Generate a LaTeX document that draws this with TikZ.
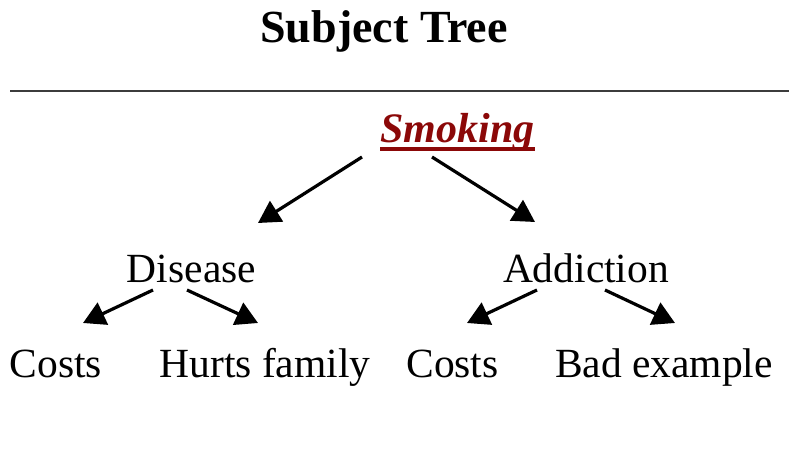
\documentclass[tikz,border=0pt]{standalone}
\usepackage{fontspec}
\setmainfont{Liberation Serif}
\usetikzlibrary{arrows.meta}
\definecolor{smokered}{RGB}{139,8,8}
\definecolor{rulegray}{RGB}{60,60,60}
\tikzset{
  lbl/.style={anchor=base, inner sep=0pt, font=\fontsize{41.5}{41.5}\selectfont},
  ttl/.style={anchor=base, inner sep=0pt, font=\fontsize{46}{46}\selectfont\bfseries},
  topic/.style={anchor=base, inner sep=0pt, text=smokered, font=\fontsize{42}{42}\selectfont\bfseries\itshape},
  arr/.style={line width=3.2pt, -{Triangle[length=22pt,width=24pt]}},
}
\begin{document}
\begin{tikzpicture}[x=1pt,y=-1pt]
\useasboundingbox (0,0) rectangle (789,460);
\node[ttl] (title) at (384,43) {Subject Tree};
\draw[rulegray, line width=2pt] (10,91) coordinate (rl) -- (789,91) coordinate (rr);
\node[topic] (smoking) at (457.5,142) {Smoking};
\draw[smokered, line width=4pt] (smoking.base west) ++(0,7) coordinate (ul) -- (smoking.base east |- ul) coordinate (ur);
\node[lbl] (disease) at (191.5,282) {Disease};
\node[lbl] (addiction) at (586,282) {Addiction};
\node[lbl] (costsa) at (56,377) {Costs};
\node[lbl] (hurts) at (265,377) {Hurts family};
\node[lbl] (costsb) at (452.5,377) {Costs};
\node[lbl] (bad) at (664,377) {Bad example};
% connector ends
\coordinate (s1) at (362,157); \coordinate (e1) at (258,223);
\coordinate (s2) at (432,157); \coordinate (e2) at (535,222);
\coordinate (s3) at (153,290); \coordinate (e3) at (83,323);
\coordinate (s4) at (187,290); \coordinate (e4) at (258,323);
\coordinate (s5) at (537,290); \coordinate (e5) at (467,323);
\coordinate (s6) at (605,290); \coordinate (e6) at (675,323);
\draw[arr] (s1) -- (e1);
\draw[arr] (s2) -- (e2);
\draw[arr] (s3) -- (e3);
\draw[arr] (s4) -- (e4);
\draw[arr] (s5) -- (e5);
\draw[arr] (s6) -- (e6);
\end{tikzpicture}
\end{document}
